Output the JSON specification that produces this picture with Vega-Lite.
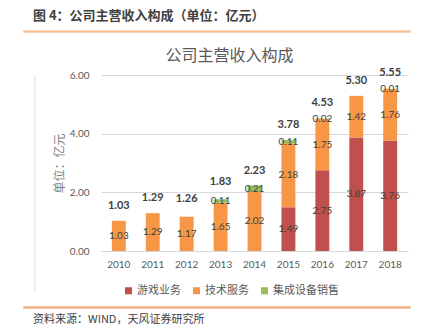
{
  "$schema": "https://vega.github.io/schema/vega-lite/v6.json",
  "background": "white",
  "padding": {"left": 23, "top": 10, "right": 5, "bottom": 0},
  "config": {"view": {"stroke": null}, "font": "Noto Sans CJK SC"},
  "title": {"text": "图 4：公司主营收入构成（单位：亿元）", "anchor": "start", "frame": "group", "dx": 9, "fontSize": 13, "fontWeight": "bold", "color": "#404040", "offset": 6, "font": "Noto Sans CJK SC"},
  "datasets": {
    "seg": [
      {"year": "2010", "type": "技术服务", "v": 1.03, "ord": 2},
      {"year": "2011", "type": "技术服务", "v": 1.29, "ord": 2},
      {"year": "2012", "type": "技术服务", "v": 1.17, "ord": 2},
      {"year": "2013", "type": "技术服务", "v": 1.65, "ord": 2},
      {"year": "2013", "type": "集成设备销售", "v": 0.11, "ord": 3},
      {"year": "2014", "type": "技术服务", "v": 2.02, "ord": 2},
      {"year": "2014", "type": "集成设备销售", "v": 0.21, "ord": 3},
      {"year": "2015", "type": "游戏业务", "v": 1.49, "ord": 1},
      {"year": "2015", "type": "技术服务", "v": 2.18, "ord": 2},
      {"year": "2015", "type": "集成设备销售", "v": 0.11, "ord": 3},
      {"year": "2016", "type": "游戏业务", "v": 2.75, "ord": 1},
      {"year": "2016", "type": "技术服务", "v": 1.75, "ord": 2},
      {"year": "2016", "type": "集成设备销售", "v": 0.02, "ord": 3},
      {"year": "2017", "type": "游戏业务", "v": 3.87, "ord": 1},
      {"year": "2017", "type": "技术服务", "v": 1.42, "ord": 2},
      {"year": "2018", "type": "游戏业务", "v": 3.76, "ord": 1},
      {"year": "2018", "type": "技术服务", "v": 1.76, "ord": 2},
      {"year": "2018", "type": "集成设备销售", "v": 0.01, "ord": 3}
    ],
    "tot": [
      {"year": "2010", "total": 1.03},
      {"year": "2011", "total": 1.29},
      {"year": "2012", "total": 1.26},
      {"year": "2013", "total": 1.83},
      {"year": "2014", "total": 2.23},
      {"year": "2015", "total": 3.78},
      {"year": "2016", "total": 4.53},
      {"year": "2017", "total": 5.30},
      {"year": "2018", "total": 5.55}
    ]
  },
  "spacing": 15,
  "vconcat": [
    {
      "spacing": 0,
      "vconcat": [
        {
          "width": 386,
          "height": 1,
          "view": {"stroke": null},
          "data": {"values": []},
          "mark": "point"
        },
        {
          "width": 386,
          "height": 1,
          "view": {"stroke": "#F8C39B", "strokeWidth": 1.5},
          "data": {"values": []},
          "mark": "point"
        }
      ]
    },
    {
      "spacing": 17,
      "hconcat": [
        {
          "spacing": 0,
          "hconcat": [
            {"width": 9, "height": 215, "data": {"values": []}, "mark": "point", "view": {"stroke": null}},
            {"width": 1, "height": 215, "data": {"values": []}, "mark": "point", "view": {"stroke": "#E3E3E3", "strokeWidth": 0.75}}
          ]
        },
        {
          "width": 307,
          "height": 176,
          "title": {"text": "公司主营收入构成", "anchor": "middle", "dx": -25, "fontSize": 16, "fontWeight": "normal", "color": "#595959", "offset": 3, "font": "Noto Sans CJK SC"},
          "layer": [
            {
              "data": {"name": "seg"},
              "mark": {"type": "bar"},
              "encoding": {
                "x": {"field": "year", "type": "ordinal", "title": null,
                  "scale": {"paddingInner": 0.59, "paddingOuter": 0.32},
                  "axis": {"labelAngle": 0, "ticks": false, "domainColor": "#D9D9D9", "labelColor": "#595959", "labelFontSize": 10, "labelFont": "Lato", "labelPadding": 8}},
                "y": {"field": "v", "type": "quantitative", "stack": "zero", "title": "单位：亿元",
                  "scale": {"domain": [0, 6], "nice": false},
                  "axis": {"values": [0, 1, 2, 3, 4, 5, 6], "format": ".2f", "domain": false, "ticks": false, "gridColor": "#D9D9D9", "labelColor": "#595959", "labelFontSize": 10, "labelFont": "Lato", "labelPadding": 12, "titleFontSize": 12, "titleFontWeight": "normal", "titleColor": "#808080", "titleFont": "Noto Sans CJK SC", "titlePadding": 3}},
                "color": {"field": "type", "type": "nominal",
                  "scale": {"domain": ["游戏业务", "技术服务", "集成设备销售"], "range": ["#C0504D", "#F79646", "#9BBB59"]},
                  "legend": {"title": null, "orient": "none", "direction": "horizontal", "legendX": 99, "legendY": 256, "symbolType": "square", "symbolSize": 49, "symbolStrokeWidth": 0, "labelFontSize": 11, "labelColor": "#595959", "labelFont": "Noto Sans CJK SC", "columnPadding": 10, "labelOffset": 3}},
                "order": {"field": "ord", "type": "quantitative"}
              }
            },
            {
              "data": {"name": "seg"},
              "transform": [
                {"stack": "v", "groupby": ["year"], "sort": [{"field": "ord", "order": "ascending"}], "as": ["y0", "y1"]},
                {"fold": ["y0", "y1"], "as": ["k", "pos"]}
              ],
              "mark": {"type": "text", "fontSize": 10, "font": "Lato", "color": "#404040"},
              "encoding": {
                "x": {"field": "year", "type": "ordinal"},
                "y": {"aggregate": "mean", "field": "pos", "type": "quantitative", "stack": null, "title": "单位：亿元"},
                "text": {"field": "v", "type": "quantitative", "format": ".2f"},
                "detail": {"field": "type"}
              }
            },
            {
              "data": {"name": "tot"},
              "mark": {"type": "text", "fontSize": 11, "fontWeight": "bold", "font": "Lato", "color": "#404040", "dy": -15},
              "encoding": {
                "x": {"field": "year", "type": "ordinal"},
                "y": {"field": "total", "type": "quantitative", "title": "单位：亿元"},
                "text": {"field": "total", "type": "quantitative", "format": ".2f"}
              }
            }
          ]
        }
      ]
    },
    {
      "title": {"text": "资料来源：WIND，天风证券研究所", "orient": "bottom", "anchor": "start", "dx": 9, "fontSize": 11, "fontWeight": "normal", "color": "#404040", "offset": 6, "font": "Noto Sans CJK SC"},
      "width": 386,
      "height": 1,
      "view": {"stroke": "#F4B183", "strokeWidth": 1.5},
      "data": {"values": []},
      "mark": "point"
    }
  ]
}
